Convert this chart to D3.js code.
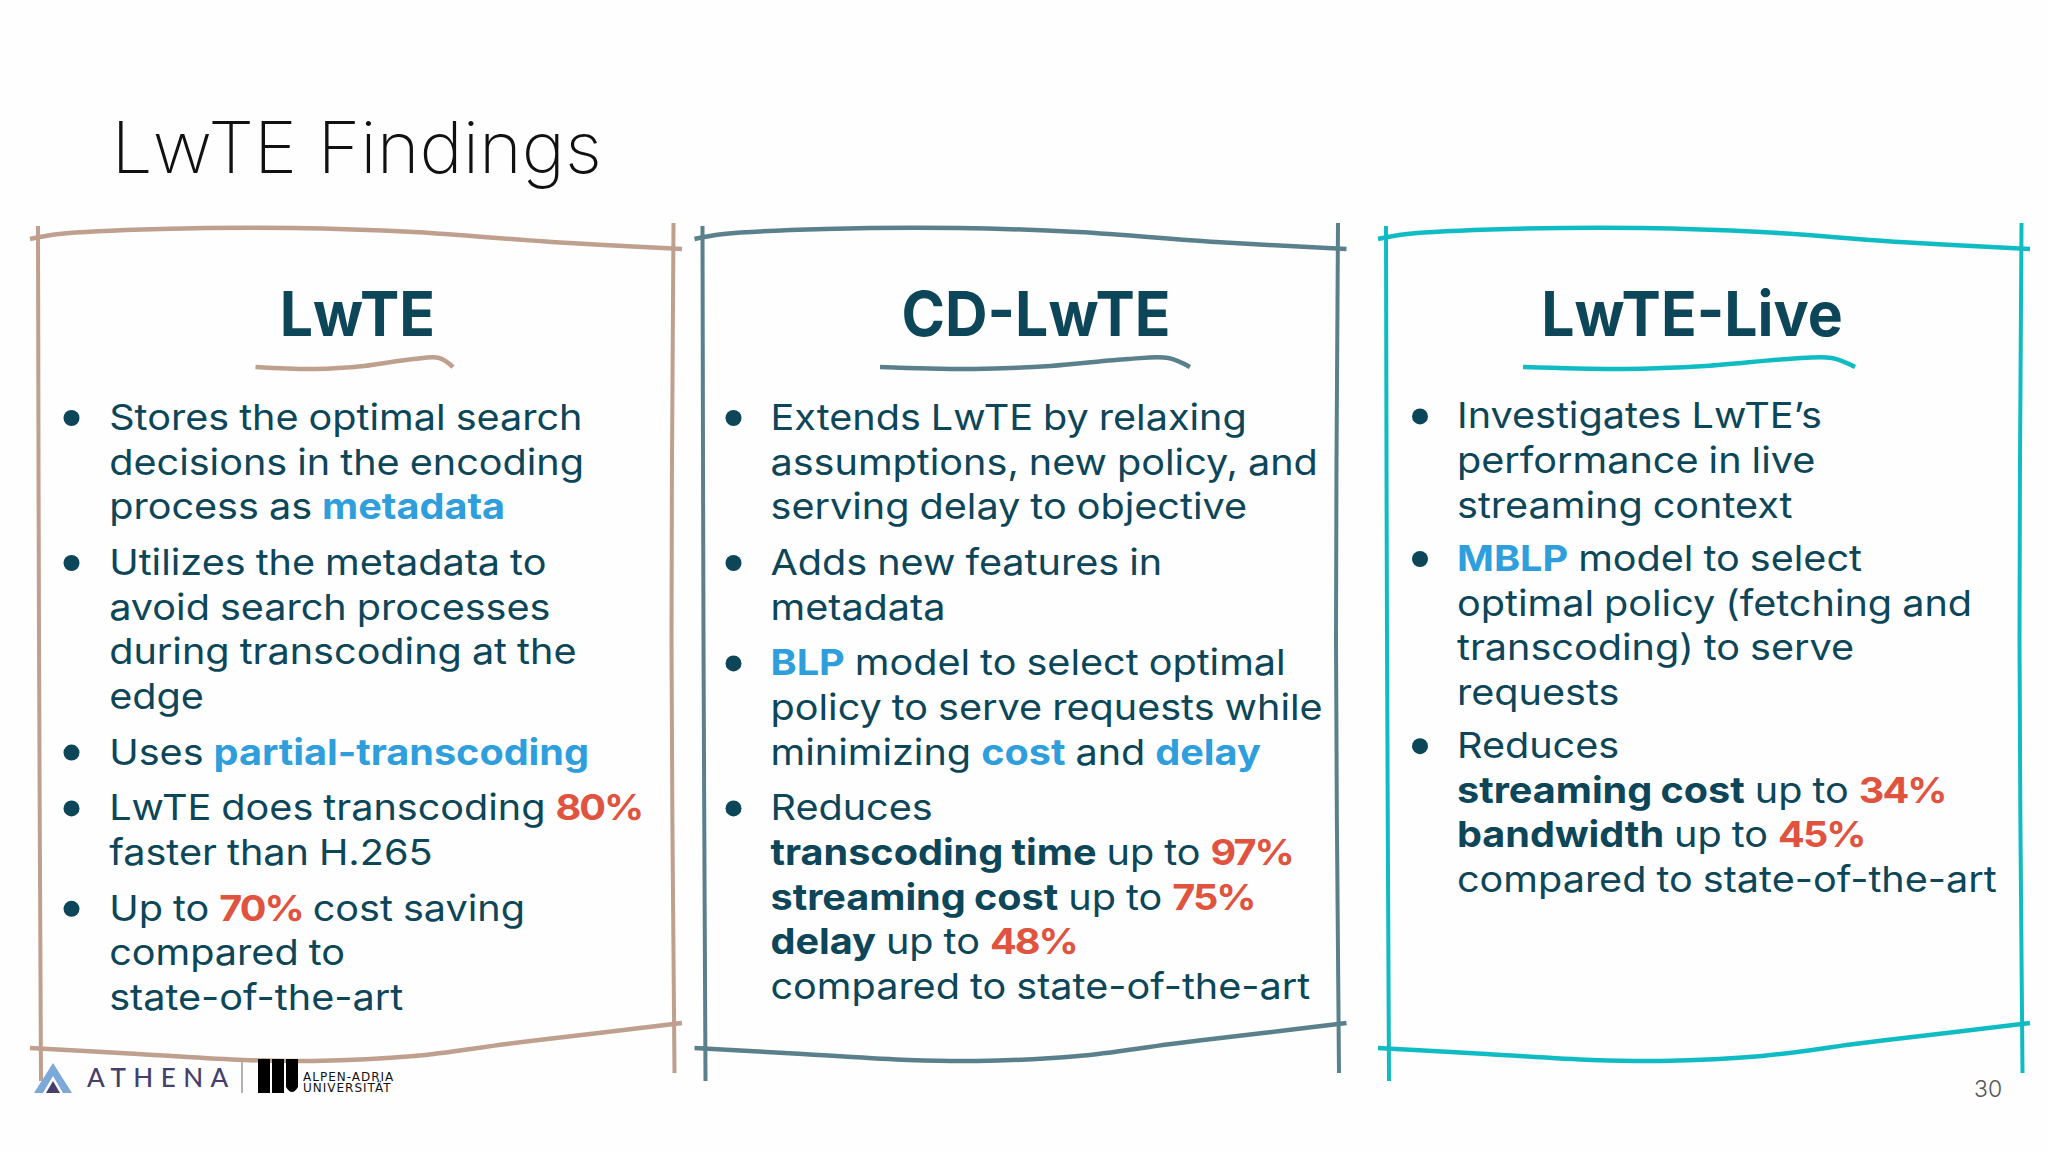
<!DOCTYPE html>
<html>
<head>
<meta charset="utf-8">
<script src="https://cdn.jsdelivr.net/npm/d3@7"></script>
<style>
html,body{margin:0;padding:0;background:#fefefe;}
svg{display:block;}
</style>
</head>
<body>
<script>
// slide text, [b:..] = blue bold, [r:..] = red bold, [d:..] = dark bold
var pageTitle = "LwTE Findings";
var pageNumber = "30";
var panelTitles = ["LwTE", "CD-LwTE", "LwTE-Live"];
var panelColors = ["#bf9f8d", "#5a808c", "#10bcc4"];

var lwteBullets = [
    ["Stores the optimal search", "decisions in the encoding", "process as [b:metadata]"],
    ["Utilizes the metadata to", "avoid search processes", "during transcoding at the", "edge"],
    ["Uses [b:partial-transcoding]"],
    ["LwTE does transcoding [r:80%]", "faster than H.265"],
    ["Up to [r:70%] cost saving", "compared to", "state-of-the-art"]
];
var cdLwteBullets = [
    ["Extends LwTE by relaxing", "assumptions, new policy, and", "serving delay to objective"],
    ["Adds new features in", "metadata"],
    ["[b:BLP] model to select optimal", "policy to serve requests while", "minimizing [b:cost] and [b:delay]"],
    ["Reduces", "[d:transcoding time] up to [r:97%]", "[d:streaming cost] up to [r:75%]", "[d:delay] up to [r:48%]", "compared to state-of-the-art"]
];
var liveBullets = [
    ["Investigates LwTE\u2019s", "performance in live", "streaming context"],
    ["[b:MBLP] model to select", "optimal policy (fetching and", "transcoding) to serve", "requests"],
    ["Reduces", "[d:streaming cost] up to [r:34%]", "[d:bandwidth] up to [r:45%]", "compared to state-of-the-art"]
];
var panelBullets = [lwteBullets, cdLwteBullets, liveBullets];

// hand drawn strokes: fraction along the stroke, height
var topStroke = [[0, 239], [0.045, 234], [0.2, 229], [0.405, 228], [0.588, 232], [0.8, 242], [1, 249]];
var bottomStroke = [[0, 1048], [0.166, 1054], [0.328, 1060], [0.434, 1061], [0.589, 1056], [0.731, 1044], [0.872, 1033], [1, 1023]];
var underlineStroke = [[0, 367], [0.3, 369], [0.55, 366], [0.8, 359], [0.93, 358], [1, 367]];

var dark = "#0c4658", blue = "#2e9fdc", red = "#e0533f";
var fontFamily = "Inter, 'Noto Sans', sans-serif";

var svg = d3.select("body").append("svg")
    .attr("width", 2048)
    .attr("height", 1152)
    .attr("viewBox", "0 0 2048 1152");

svg.append("rect").attr("width", 2048).attr("height", 1152).attr("fill", "#fefefe");

svg.append("text")
    .attr("transform", "translate(111.5,173) scale(1.014,1)")
    .style("font-family", fontFamily)
    .style("font-weight", 250)
    .style("font-size", "72px")
    .style("fill", "#111")
    .text(pageTitle);

// one entry per panel
var panelX = [0, 664.5, 1348];
var panelText = [109.2, 770.5, 1457];
var panelBullet = [71.5, 733.5, 1420];
var panelMid = [357.4, 1036, 1692];
var panelFirst = [430, 430, 428.4];
var panelGap = [11.2, 11.2, 8.8];
var underX = [[255.5, 453], [880, 1190], [1523, 1855]];
var lineHeight = 44.6;
var bodyStretch = 1.1, headStretch = 0.95;

var strokeLine = d3.line().curve(d3.curveCatmullRom.alpha(0.5));

panelTitles.forEach(function(title, i) {
    var g = svg.append("g");
    var color = panelColors[i];
    var dx = panelX[i];
    var x = d3.scaleLinear().domain([0, 1]).range([30 + dx, 682 + dx]);

    [topStroke, bottomStroke].forEach(function(stroke) {
        g.append("path")
            .attr("d", strokeLine(stroke.map(function(d) { return [x(d[0]), d[1]]; })))
            .attr("fill", "none")
            .attr("stroke", color)
            .attr("stroke-width", 4.5);
    });
    // sides
    g.append("path")
        .attr("d", strokeLine([[38 + dx, 226], [39 + dx, 640], [41 + dx, 1081]]))
        .attr("fill", "none").attr("stroke", color).attr("stroke-width", 4);
    g.append("path")
        .attr("d", strokeLine([[673.5 + dx, 223], [671.5 + dx, 640], [674.5 + dx, 1073]]))
        .attr("fill", "none").attr("stroke", color).attr("stroke-width", 4);

    g.append("text")
        .attr("transform", "translate(" + panelMid[i] + ",336) scale(" + headStretch + ",1)")
        .attr("text-anchor", "middle")
        .style("font-family", fontFamily)
        .style("font-weight", 700)
        .style("font-size", "62px")
        .style("fill", dark)
        .text(title);

    var ux = d3.scaleLinear().domain([0, 1]).range(underX[i]);
    g.append("path")
        .attr("d", strokeLine(underlineStroke.map(function(d) { return [ux(d[0]), d[1]]; })))
        .attr("fill", "none")
        .attr("stroke", color)
        .attr("stroke-width", 4.5);

    var y = panelFirst[i];
    panelBullets[i].forEach(function(lines) {
        g.append("circle")
            .attr("cx", panelBullet[i])
            .attr("cy", y - 12)
            .attr("r", 8)
            .attr("fill", dark);
        lines.forEach(function(line) {
            drawRich(g, line, panelText[i], y);
            y += lineHeight;
        });
        y += panelGap[i];
    });
});

function drawRich(g, line, x, y) {
    var t = g.append("text")
        .attr("transform", "translate(" + x + "," + y + ") scale(" + bodyStretch + ",1)")
        .style("font-family", fontFamily)
        .style("font-size", "36px")
        .style("font-weight", 400)
        .style("word-spacing", "-1px")
        .style("fill", dark);
    line.split(/(\[[brd]:[^\]]+\])/).forEach(function(part) {
        if (!part) return;
        var m = part.match(/^\[([brd]):([^\]]+)\]$/);
        if (m) {
            t.append("tspan")
                .style("font-weight", 700)
                .style("letter-spacing", m[1] === "r" ? "-1.8px" : null)
                .style("fill", m[1] === "b" ? blue : m[1] === "r" ? red : dark)
                .text(m[2]);
        } else {
            t.append("tspan").text(part);
        }
    });
}

// footer logos
var logo = svg.append("g");
logo.append("path").attr("d", "M34 1093 L53 1063 L72 1093 L63 1093 L53 1076 L43 1093 Z").attr("fill", "#7ba9d8");
logo.append("path").attr("d", "M46 1093 L53 1081 L60 1093 Z").attr("fill", "#463f6b");
logo.append("text")
    .attr("x", 87).attr("y", 1087)
    .style("font-family", "Lato, sans-serif")
    .style("font-weight", 500)
    .style("font-size", "26px")
    .style("letter-spacing", "7.5px")
    .style("fill", "#463f6b")
    .text("ATHENA");
logo.append("line").attr("x1", 242).attr("x2", 242).attr("y1", 1062).attr("y2", 1093).attr("stroke", "#999").attr("stroke-width", 1.5);
logo.append("path").attr("d", "M258 1093 V1059 H270 V1093 Z M272 1093 V1059 H284 V1093 Z M286 1059 H298 V1087 Q292 1097 286 1087 Z").attr("fill", "#000");
["ALPEN-ADRIA", "UNIVERSIT\u00c4T"].forEach(function(s, i) {
    logo.append("text")
        .attr("x", 303).attr("y", 1081 + i * 11)
        .style("font-family", "'DejaVu Sans', sans-serif")
        .style("font-size", "12px")
        .style("letter-spacing", "1px")
        .style("fill", "#111")
        .text(s);
});

svg.append("text")
    .attr("x", 1974).attr("y", 1097)
    .style("font-family", fontFamily)
    .style("font-weight", 300)
    .style("font-size", "23px")
    .style("fill", "#555")
    .text(pageNumber);
</script>
</body>
</html>
